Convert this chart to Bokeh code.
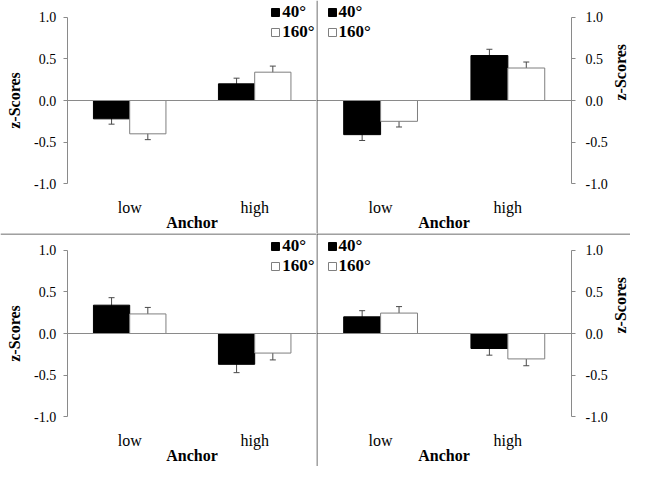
import math
from bokeh.plotting import figure
from bokeh.layouts import column, row
from bokeh.models import (ColumnDataSource, LinearAxis, FixedTicker, NumeralTickFormatter,
                          Whisker, TeeHead, Span, Legend, LegendItem, Range1d)
from bokeh.embed import file_html
from bokeh.resources import INLINE

# ---------------- data ----------------
categories = ["low", "high"]
series_names = ["40°", "160°"]
y_ticks = [-1.0, -0.5, 0.0, 0.5, 1.0]

# top-left panel
tl_40 = [-0.22, 0.20]
tl_40_se = [0.064, 0.068]
tl_160 = [-0.40, 0.34]
tl_160_se = [0.070, 0.073]
# top-right panel
tr_40 = [-0.41, 0.54]
tr_40_se = [0.070, 0.075]
tr_160 = [-0.25, 0.39]
tr_160_se = [0.068, 0.072]
# bottom-left panel
bl_40 = [0.34, -0.37]
bl_40_se = [0.090, 0.100]
bl_160 = [0.235, -0.235]
bl_160_se = [0.078, 0.082]
# bottom-right panel
br_40 = [0.20, -0.18]
br_40_se = [0.074, 0.080]
br_160 = [0.245, -0.305]
br_160_se = [0.078, 0.082]

# ---------------- styling ----------------
FONT = "Liberation Serif"
AXIS_GRAY = "#8a8a8a"
DIV_COLOR = "#3c3c3c"
ERR_COLOR = "#4a4a4a"
BAR_W = 0.29


def panel(v40, se40, v160, se160, is_left, is_top):
    w = 316 if is_left else 314
    h = 233
    xr = Range1d(-1.0336, 1.4944) if is_left else Range1d(-0.5037, 1.9639)
    yr = Range1d(-1.5966, 1.2005)
    p = figure(width=w, height=h, x_range=xr, y_range=yr,
               x_axis_type=None, y_axis_type=None,
               toolbar_location=None, output_backend="svg",
               min_border=0, outline_line_color=None,
               background_fill_color="white", border_fill_color="white")

    pos = list(range(len(categories)))
    s40 = ColumnDataSource(dict(
        x=[i - BAR_W / 2 for i in pos], top=v40,
        upper=[v + s for v, s in zip(v40, se40)],
        lower=[v - s for v, s in zip(v40, se40)]))
    s160 = ColumnDataSource(dict(
        x=[i + BAR_W / 2 for i in pos], top=v160,
        upper=[v + s for v, s in zip(v160, se160)],
        lower=[v - s for v, s in zip(v160, se160)]))

    r40 = p.vbar(x="x", top="top", bottom=0, width=BAR_W, source=s40,
                 fill_color="black", line_color="black", line_width=1)
    r160 = p.vbar(x="x", top="top", bottom=0, width=BAR_W, source=s160,
                  fill_color="white", line_color="#7f7f7f", line_width=1)

    for src in (s40, s160):
        p.add_layout(Whisker(source=src, base="x", upper="upper", lower="lower",
                             dimension="height", line_color=ERR_COLOR, line_width=1,
                             upper_head=TeeHead(size=6, line_color=ERR_COLOR, line_width=1),
                             lower_head=TeeHead(size=6, line_color=ERR_COLOR, line_width=1)))

    # zero line
    zero_bounds = (-0.5, xr.end) if is_left else (xr.start, 1.5)
    zaxis = LinearAxis(fixed_location=0, bounds=zero_bounds,
                       ticker=FixedTicker(ticks=[]), axis_line_color=AXIS_GRAY,
                       major_tick_line_color=None, minor_tick_line_color=None,
                       major_label_text_alpha=0)
    p.add_layout(zaxis, "below")

    # category axis
    overrides = {float(i): c for i, c in zip(pos, categories)}
    xaxis = LinearAxis(fixed_location=-1.06, bounds=(-0.5, 1.5),
                       ticker=FixedTicker(ticks=[float(i) for i in pos]),
                       major_label_overrides=overrides,
                       axis_line_color=None, major_tick_line_color=None,
                       minor_tick_line_color=None,
                       major_label_standoff=4,
                       major_label_text_font=FONT, major_label_text_font_size="16px",
                       major_label_text_color="black",
                       axis_label="Anchor", axis_label_standoff=-5,
                       axis_label_text_font=FONT, axis_label_text_font_size="16px",
                       axis_label_text_font_style="bold", axis_label_text_color="black")
    p.add_layout(xaxis, "below")

    # value axis
    yaxis = LinearAxis(fixed_location=-0.5 if is_left else 1.5, bounds=(-1, 1),
                       ticker=FixedTicker(ticks=y_ticks),
                       formatter=NumeralTickFormatter(format="0.0"),
                       axis_line_color=AXIS_GRAY, major_tick_line_color=AXIS_GRAY,
                       minor_tick_line_color=None, major_tick_out=4, major_tick_in=0,
                       major_label_standoff=7 if is_left else 10,
                       major_label_text_font=FONT, major_label_text_font_size="14px",
                       major_label_text_color="black",
                       axis_label="z-Scores", axis_label_standoff=8 if is_left else 10,
                       axis_label_text_font=FONT, axis_label_text_font_size="16px",
                       axis_label_text_font_style="bold", axis_label_text_color="black")
    if not is_left:
        yaxis.axis_label_orientation = math.pi / 2
    p.add_layout(yaxis, "left" if is_left else "right")

    # dividers
    if not is_left:
        p.add_layout(Span(location=-0.5, dimension="height",
                          line_color=DIV_COLOR, line_width=1))
    if not is_top:
        p.add_layout(Span(location=yr.end - 0.006, dimension="width",
                          line_color=DIV_COLOR, line_width=1))

    legend = Legend(items=[LegendItem(label=series_names[0], renderers=[r40]),
                           LegendItem(label=series_names[1], renderers=[r160])],
                    location=(270.3 if is_left else 10.5, 191.5 if is_top else 190.5),
                    glyph_width=10, glyph_height=10, label_standoff=2,
                    label_text_font=FONT, label_text_font_size="17px",
                    label_text_font_style="bold", label_text_color="black",
                    label_height=20, spacing=0, padding=0, margin=0,
                    border_line_color=None, background_fill_alpha=0)
    p.add_layout(legend, "center")
    return p


p_tl = panel(tl_40, tl_40_se, tl_160, tl_160_se, True, True)
p_tr = panel(tr_40, tr_40_se, tr_160, tr_160_se, False, True)
p_bl = panel(bl_40, bl_40_se, bl_160, bl_160_se, True, False)
p_br = panel(br_40, br_40_se, br_160, br_160_se, False, False)

layout = column(row(p_tl, p_tr), row(p_bl, p_br))

open("out.html", "w").write(file_html(layout, INLINE))
